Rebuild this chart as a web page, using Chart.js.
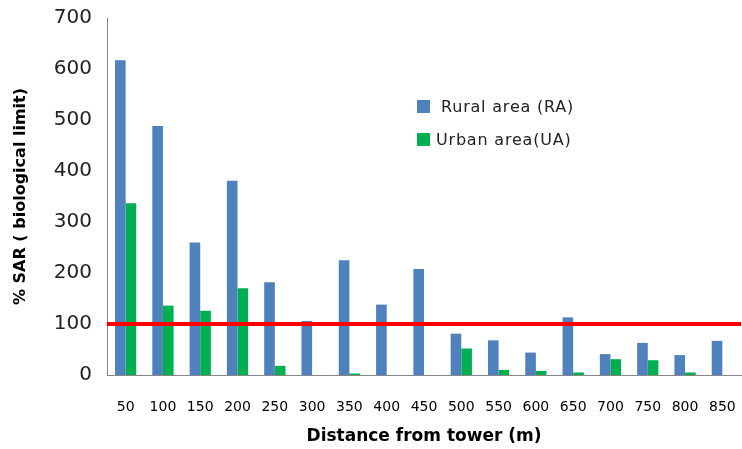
<!DOCTYPE html>
<html>
<head>
<meta charset="utf-8">
<script src="https://cdn.jsdelivr.net/npm/chart.js@4/dist/chart.umd.min.js"></script>
<style>
  html, body { margin: 0; padding: 0; background: #fff; }
  #wrap { position: relative; width: 742px; height: 449px; }
  #legend { position: absolute; left: 417px; top: 100px; font-family: "DejaVu Sans", sans-serif; font-size: 16px; letter-spacing: 0.8px; color: #222; }
  .li { display: flex; align-items: center; height: 13px; margin-bottom: 20px; white-space: nowrap; }
  .sw { width: 13px; height: 13px; display: inline-block; flex: none; }
</style>
</head>
<body>
<div id="wrap">
  <canvas id="c" width="742" height="449"></canvas>
  <div id="legend"></div>
</div>
<script>
const categories = ["50","100","150","200","250","300","350","400","450","500","550","600","650","700","750","800","850"];
const ruralArea = [617, 488, 260, 381, 182, 106, 225, 138, 208, 81, 68, 44, 113, 41, 63, 39, 67];
const urbanArea = [337, 136, 126, 170, 18, 0, 3, 0, 0, 52, 10, 8, 5, 31, 29, 5, 0];
const yTicks = [0, 100, 200, 300, 400, 500, 600, 700];
const biologicalLimit = 100;
const seriesLabels = ["Rural area (RA)", "Urban area(UA)"];
const seriesColors = ["#4F81BD", "#00B050"];

const limitLine = {
  id: 'limitLine',
  afterDatasetsDraw(chart) {
    const {ctx, chartArea, scales} = chart;
    const y = scales.y.getPixelForValue(biologicalLimit);
    ctx.save();
    ctx.strokeStyle = '#FF0000';
    ctx.lineWidth = 4;
    ctx.beginPath();
    ctx.moveTo(chartArea.left, y);
    ctx.lineTo(chartArea.right, y);
    ctx.stroke();
    ctx.restore();
  }
};

const chart = new Chart(document.getElementById('c'), {
  type: 'bar',
  data: {
    labels: categories,
    datasets: [
      { label: seriesLabels[0], data: ruralArea, backgroundColor: seriesColors[0], categoryPercentage: 0.57, barPercentage: 1.0 },
      { label: seriesLabels[1], data: urbanArea, backgroundColor: seriesColors[1], categoryPercentage: 0.57, barPercentage: 1.0 }
    ]
  },
  options: {
    responsive: false,
    animation: false,
    layout: { padding: { top: 18, right: 1, left: 11, bottom: 2 } },
    plugins: { legend: { display: false }, tooltip: { enabled: false } },
    scales: {
      x: {
        afterFit(s) { s.paddingLeft = 0; s.paddingRight = 0; s.height = 72; },
        grid: { display: false, drawTicks: false },
        border: { color: '#868686', width: 1 },
        ticks: { color: '#000', padding: 24, font: { family: '"DejaVu Sans", sans-serif', size: 14 }, maxRotation: 0 },
        title: { display: true, text: 'Distance from tower (m)', color: '#000', font: { family: '"DejaVu Sans", sans-serif', size: 17, weight: 'bold' }, padding: { top: 12, bottom: 0 } }
      },
      y: {
        min: 0, max: 700,
        afterFit(s) { s.paddingTop = 0; s.paddingBottom = 0; s.width = 96; },
        afterBuildTicks(axis) { axis.ticks = yTicks.map(v => ({ value: v })); },
        grid: { display: false, drawOnChartArea: false, drawTicks: true, tickLength: 7, tickColor: '#868686' },
        border: { color: '#868686', width: 1 },
        ticks: { color: '#222', padding: 8, font: { family: '"DejaVu Sans", sans-serif', size: 20 } },
        title: { display: true, text: '% SAR ( biological limit)', color: '#000', font: { family: '"DejaVu Sans", sans-serif', size: 16, weight: 'bold' }, padding: { top: 0, bottom: 21 } }
      }
    }
  },
  plugins: [limitLine]
});

const legendGaps = [11, 6];
const leg = document.getElementById('legend');
chart.data.datasets.forEach((ds, i) => {
  const row = document.createElement('div');
  row.className = 'li';
  const sw = document.createElement('span');
  sw.className = 'sw';
  sw.style.background = ds.backgroundColor;
  const tx = document.createElement('span');
  tx.textContent = ds.label;
  tx.style.marginLeft = legendGaps[i] + 'px';
  row.appendChild(sw); row.appendChild(tx);
  leg.appendChild(row);
});
</script>
</body>
</html>
